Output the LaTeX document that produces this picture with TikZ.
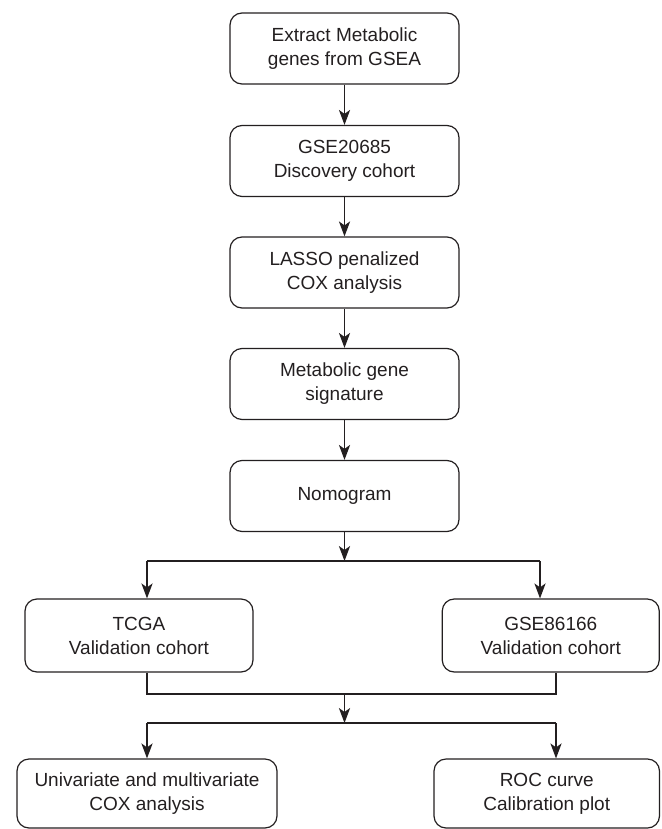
\documentclass[tikz,border=0pt]{standalone}
\usepackage{fontspec}
\setmainfont{Liberation Sans}
\usetikzlibrary{arrows.meta}
\definecolor{ink}{HTML}{231F20}

\tikzset{
  box/.style={draw=ink, line width=0.6pt, rounded corners=6pt, align=center,
    text=ink, font=\fontsize{9.5}{12}\selectfont, inner sep=0pt,
    minimum width=114.5pt, minimum height=35.5pt},
  flow/.style={draw=ink, line width=0.6pt, -{Stealth[length=7.5pt,width=5.6pt,inset=2pt]}},
  link/.style={draw=ink, line width=0.6pt},
}

\begin{document}
\begin{tikzpicture}[x=0.5pt, y=-0.5pt]
        \useasboundingbox (0,0) rectangle (661,829);

        % main column
        \node[box] (genes) at (344.5,48.5) {Extract Metabolic\\genes from GSEA};
        \node[box] (disc) at (344.5,161) {GSE20685\\Discovery cohort};
        \node[box] (lasso) at (344.5,272.5) {LASSO penalized\\COX analysis};
        \node[box] (sign) at (344.5,384) {Metabolic gene\\signature};
        \node[box] (nomo) at (344.5,496) {Nomogram};

        % validation cohorts
        \node[box, minimum width=114pt, minimum height=36.5pt] (tcga) at (139,635.5) {TCGA\\Validation cohort};
        \node[box, minimum width=108.5pt, minimum height=36.5pt] (gse) at (550.75,635.5) {GSE86166\\Validation cohort};

        % final analyses
        \node[box, minimum width=130pt, minimum height=34.5pt] (cox) at (147,793.5) {Univariate and multivariate\\COX analysis};
        \node[box, minimum width=112.75pt, minimum height=34.5pt] (roc) at (546.75,793.5) {ROC curve\\Calibration plot};

        \coordinate (split) at (344.5,561);
        \coordinate (splitl) at (147,561);
        \coordinate (splitr) at (540,561);
        \coordinate (joinl) at (147,694);
        \coordinate (joinr) at (556,694);
        \coordinate (join) at (344.5,694);
        \coordinate (fork) at (344.5,723);
        \coordinate (forkl) at (147,723);
        \coordinate (forkr) at (556,723);

        \draw[flow] (genes) -- (disc);
        \draw[flow] (disc) -- (lasso);
        \draw[flow] (lasso) -- (sign);
        \draw[flow] (sign) -- (nomo);
        \draw[flow] (nomo) -- (split);

        \draw[link] (splitl) -- (splitr);
        \draw[flow] (splitl) -- (splitl |- tcga.north);
        \draw[flow] (splitr) -- (splitr |- gse.north);

        \draw[link] (joinl |- tcga.south) -- (joinl) -- (joinr) -- (joinr |- gse.south);
        \draw[flow] (join) -- (fork);

        \draw[link] (forkl) -- (forkr);
        \draw[flow] (forkl) -- (forkl |- cox.north);
        \draw[flow] (forkr) -- (forkr |- roc.north);

      \end{tikzpicture}
\end{document}
